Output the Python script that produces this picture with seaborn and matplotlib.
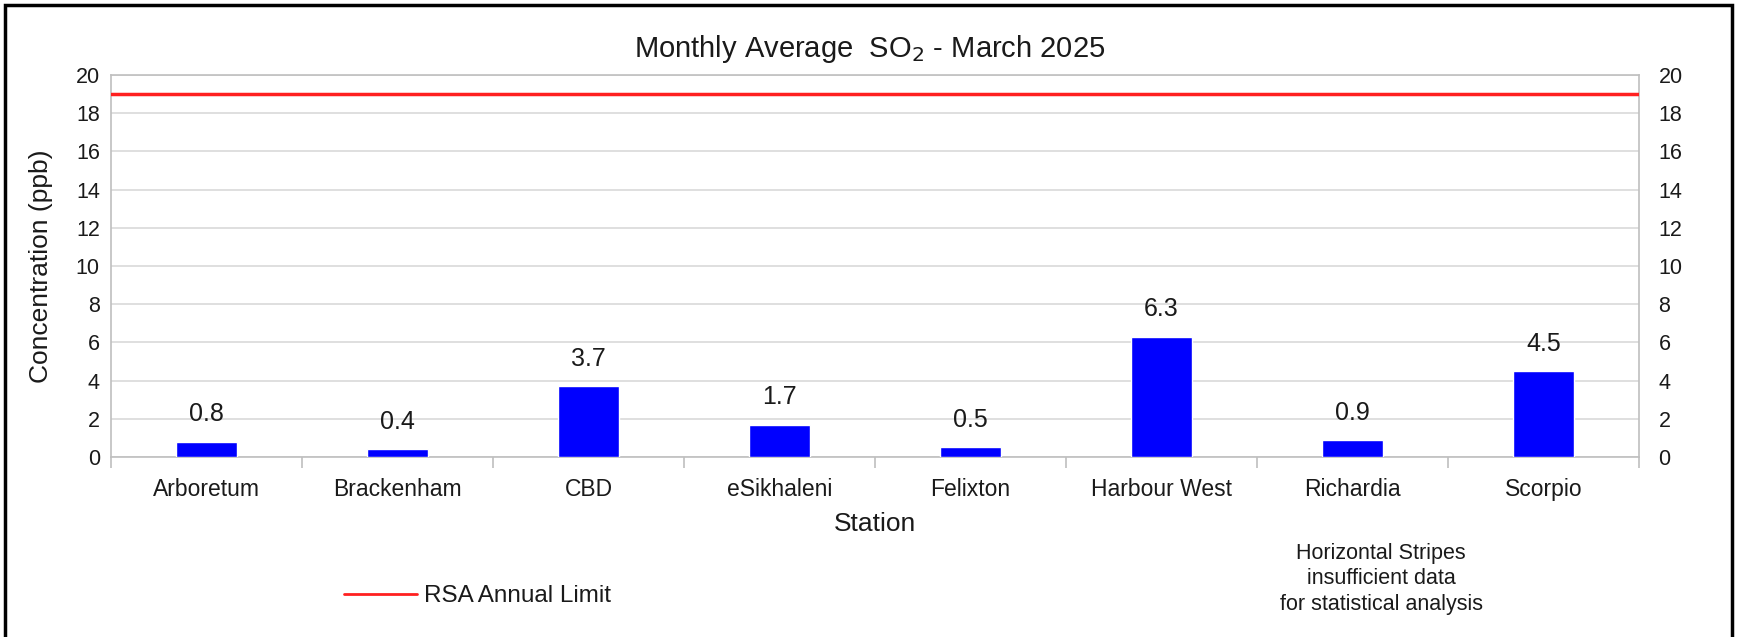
import matplotlib
matplotlib.use("Agg")
import matplotlib.pyplot as plt
from matplotlib.lines import Line2D
from matplotlib.patches import Rectangle
import seaborn as sns

# ===================== DATOS =====================

stations = ["Arboretum", "Brackenham", "CBD", "eSikhaleni", "Felixton",
            "Harbour West", "Richardia", "Scorpio"]
so2_ppb = [0.8, 0.4, 3.7, 1.7, 0.5, 6.3, 0.9, 4.5]
annual_limit = 19
y_ticks = list(range(0, 21, 2))

# ===================== ESTILO =====================

sns.set_theme(style="white")
plt.rcParams["font.family"] = ["Liberation Sans", "DejaVu Sans"]

text_color = "#1a1a1a"
grid_color = "#d9d9d9"
spine_color = "#bfbfbf"

fig = plt.figure(figsize=(17.39, 6.37), dpi=100)
ax = fig.add_axes([0.0638, 0.2826, 0.8787, 0.5997])

sns.barplot(x=stations, y=so2_ppb, color="#0000FF", saturation=1,
            width=0.32, ax=ax, zorder=3)

ax.axhline(annual_limit, color="#ff2020", linewidth=2.5, zorder=4)

ax.set_ylim(0, 20)
ax.set_yticks(y_ticks)
ax.set_xlim(-0.5, len(stations) - 0.5)
ax.yaxis.grid(True, color=grid_color, linewidth=1.2, zorder=0)
ax.set_axisbelow(True)
for sp in ax.spines.values():
    sp.set_color(spine_color)
    sp.set_linewidth(1.2)

ax.set_xticks([i - 0.5 for i in range(len(stations) + 1)], minor=True)
ax.tick_params(axis="x", which="major", length=0, labelsize=16.5,
               labelcolor=text_color, pad=15)
ax.tick_params(axis="x", which="minor", length=8, color=spine_color,
               width=1.2, bottom=True)
ax.tick_params(axis="y", length=0, labelsize=15.5, labelcolor=text_color, pad=8)

ax.set_xlabel("Station", fontsize=19, color=text_color, labelpad=8)
ax.set_ylabel("Concentration (ppb)", fontsize=19, color=text_color, labelpad=16)

ax.bar_label(ax.containers[0], fmt="%.1f", padding=11, fontsize=18,
             color=text_color)

# eje derecho
ax2 = ax.twinx()
ax2.set_ylim(0, 20)
ax2.set_yticks(y_ticks)
ax2.tick_params(axis="y", length=0, labelsize=15.5, labelcolor=text_color, pad=14)
for sp in ax2.spines.values():
    sp.set_visible(False)
ax2.grid(False)

fig.text(0.5, 1 - 49 / 637, r"Monthly Average  SO$_2$ - March 2025",
         ha="center", va="center", fontsize=21, color=text_color)

handle = Line2D([], [], color="#ff2020", linewidth=2)
fig.legend([handle], ["RSA Annual Limit"], loc="center left",
           bbox_to_anchor=(322 / 1739, 1 - 596 / 637), frameon=False,
           fontsize=17.5, handlelength=3.0, handletextpad=0.3,
           labelcolor=text_color)

fig.text(1381 / 1739, 1 - 579 / 637,
         "Horizontal Stripes\ninsufficient data\nfor statistical analysis",
         ha="center", va="center", fontsize=15.5, linespacing=1.28,
         color=text_color)

# marco negro
fig.patches.append(Rectangle((5 / 1739, -0.05), 1727 / 1739, 1.05 - 5 / 637,
                             transform=fig.transFigure, fill=False,
                             edgecolor="black", linewidth=2.5))

fig.savefig("out.png", dpi=100)
